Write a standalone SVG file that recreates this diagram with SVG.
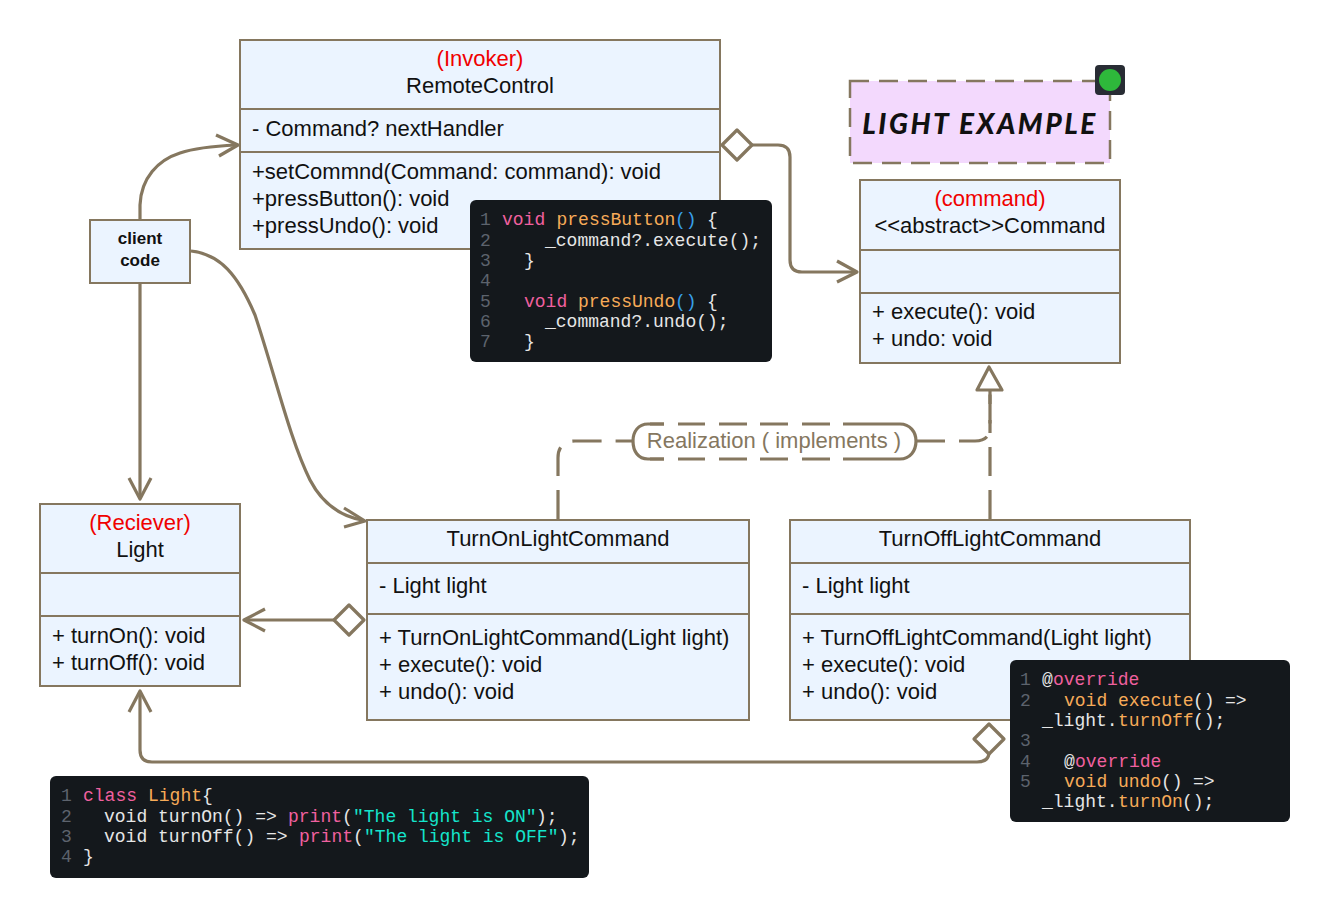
<svg xmlns="http://www.w3.org/2000/svg" width="1330" height="917" viewBox="0 0 1330 917">
<style>
.box{fill:#ebf4ff;stroke:#85775f;stroke-width:2}
.sep{stroke:#85775f;stroke-width:2;fill:none}
.t{font-family:"Liberation Sans",Arial,sans-serif;font-size:22px;fill:#111}
.m{text-anchor:middle}
.r{fill:#f00000}
.c{fill:none;stroke:#85775f;stroke-width:3.2;stroke-linecap:butt;stroke-linejoin:round}
.d{stroke-dasharray:29 14}
.dia{fill:#fff;stroke:#85775f;stroke-width:3.2;stroke-linejoin:round}
.code{fill:#14181c}
.k{font-family:"Liberation Mono",monospace;font-size:18px;fill:#e6e6e6;white-space:pre}
.n{fill:#5d636d}.p{fill:#f0609f}.o{fill:#f7ab58}.b{fill:#38a0ea}.g{fill:#14e5cc}
</style>
<defs>
<marker id="open" markerUnits="userSpaceOnUse" markerWidth="30" markerHeight="30" refX="22" refY="12" orient="auto"><path d="M2 2 L21 12 L2 22" fill="none" stroke="#85775f" stroke-width="3.2"/></marker>
</defs>
<g id="connectors">
<path class="c" d="M140 220 V205 C141 178 158 160 180 153 C195 148 215 146 236 145"/>
<path class="c" d="M216 135 L238 145 L219 156"/>
<path class="c" d="M140 284 V497"/>
<path class="c" d="M129 478 L140 499 L151 478"/>
<path class="c" d="M191 251 C220 254 238 275 255 315 C275 375 290 440 310 480 C322 503 340 516 362 520"/>
<path class="c" d="M344 508 L365 521 L344 527"/>
<path class="c" d="M752 145 H778 Q790 145 790 157 V260 Q790 272 802 272 H855"/>
<path class="c" d="M837 261 L857 272 L837 282"/>
<path class="c" d="M334 620 H246"/>
<path class="c" d="M265 609 L244 620 L265 631"/>
<path class="c" d="M989 753 V752 Q989 762 977 762 H152 Q140 762 140 750 V692"/>
<path class="c" d="M129 712 L140 691 L151 712"/>
<path class="c d" d="M558 519 V458 Q558 441 575 441 H632"/>
<path class="c d" d="M916 441 H975 Q990 441 990 427 V392"/>
<path class="c d" d="M990 519 V420"/>
<path class="dia" d="M989 367 L1002 390 H977 Z"/>
<path class="c" d="M990 390 V404"/>
<path class="dia" d="M737 130 L752 145 L737 160 L722 145 Z"/>
<path class="dia" d="M349 605 L364 620 L349 635 L334 620 Z"/>
<path class="dia" d="M989 724 L1004 739 L989 754 L974 739 Z"/>
<rect x="633" y="424" width="283" height="35" rx="18" fill="#fff" stroke="none"/>
<path class="c" d="M664 424 H648 C638 424 633 432 633 441 C633 451 638 459 648 459 H664"/>
<path class="c" d="M885 424 H900 C910 424 916 432 916 441 C916 451 910 459 900 459 H885"/>
<path class="c" d="M678 424 H705 M719 424 H747 M760 424 H788 M802 424 H830 M843 424 H870 M664 459 H664 M678 459 H705 M719 459 H747 M760 459 H788 M802 459 H830 M843 459 H870"/>
<path class="c" d="M650 424 H664 M885 424 H870 M650 459 H664 M885 459 H870"/>
<text class="t m" x="774" y="447.500" style="fill:#85775f">Realization ( implements )</text>
</g>
<g id="invoker">
<rect class="box" x="240" y="40" width="480" height="209"/>
<path class="sep" d="M240 109 H720 M240 152 H720"/>
<text class="t m r" x="480" y="66">(Invoker)</text>
<text class="t m" x="480" y="93">RemoteControl</text>
<text class="t" x="252" y="136">- Command? nextHandler</text>
<text class="t" x="252" y="179">+setCommnd(Command: command): void</text>
<text class="t" x="252" y="206">+pressButton(): void</text>
<text class="t" x="252" y="233">+pressUndo(): void</text>
</g>
<g id="client-code">
<rect class="box" x="90" y="220" width="100" height="63"/>
<text class="t m" style="font-size:17px;font-weight:700" x="140" y="244">client</text>
<text class="t m" style="font-size:17px;font-weight:700" x="140" y="266">code</text>
</g>
<g id="light-example">
<rect x="850" y="81" width="260" height="82" fill="#f3d9fd" stroke="#85775f" stroke-width="2.500" stroke-dasharray="19 10"/>
<text x="980" y="134" text-anchor="middle" style="font-family:Lato,sans-serif;font-size:28px;font-weight:900;font-style:italic;letter-spacing:2.500px;fill:#111">LIGHT EXAMPLE</text>
<rect x="1095" y="65" width="30" height="30" rx="4" fill="#282c34"/>
<circle cx="1110" cy="80" r="11" fill="#2eb83b"/>
</g>
<g id="command">
<rect class="box" x="860" y="180" width="260" height="183"/>
<path class="sep" d="M860 250 H1120 M860 293 H1120"/>
<text class="t m r" x="990" y="206">(command)</text>
<text class="t m" x="990" y="233">&lt;&lt;abstract&gt;&gt;Command</text>
<text class="t" x="872" y="319">+ execute(): void</text>
<text class="t" x="872" y="346">+ undo: void</text>
</g>
<g id="light">
<rect class="box" x="40" y="504" width="200" height="182"/>
<path class="sep" d="M40 573 H240 M40 616 H240"/>
<text class="t m r" x="140" y="530">(Reciever)</text>
<text class="t m" x="140" y="557">Light</text>
<text class="t" x="52" y="643">+ turnOn(): void</text>
<text class="t" x="52" y="670">+ turnOff(): void</text>
</g>
<g id="turn-on">
<rect class="box" x="367" y="520" width="382" height="200"/>
<path class="sep" d="M367 563 H749 M367 614 H749"/>
<text class="t m" x="558" y="546">TurnOnLightCommand</text>
<text class="t" x="379" y="593">- Light light</text>
<text class="t" x="379" y="645">+ TurnOnLightCommand(Light light)</text>
<text class="t" x="379" y="672">+ execute(): void</text>
<text class="t" x="379" y="699">+ undo(): void</text>
</g>
<g id="turn-off">
<rect class="box" x="790" y="520" width="400" height="200"/>
<path class="sep" d="M790 563 H1190 M790 614 H1190"/>
<text class="t m" x="990" y="546">TurnOffLightCommand</text>
<text class="t" x="802" y="593">- Light light</text>
<text class="t" x="802" y="645">+ TurnOffLightCommand(Light light)</text>
<text class="t" x="802" y="672">+ execute(): void</text>
<text class="t" x="802" y="699">+ undo(): void</text>
</g>
<g id="code-press">
<rect class="code" x="470" y="200" width="302" height="162" rx="6"/>
<text class="k" xml:space="preserve"><tspan class="n" x="480" y="225">1</tspan><tspan class="p" x="502">void</tspan><tspan class="o" x="556.500">pressButton</tspan><tspan class="b" x="675">()</tspan><tspan x="707">{</tspan></text>
<text class="k" xml:space="preserve"><tspan class="n" x="480" y="245.500">2</tspan><tspan x="545">_command?.execute();</tspan></text>
<text class="k"><tspan class="n" x="480" y="265.800">3</tspan><tspan x="524">}</tspan></text>
<text class="k"><tspan class="n" x="480" y="286">4</tspan></text>
<text class="k"><tspan class="n" x="480" y="306.500">5</tspan><tspan class="p" x="524">void</tspan><tspan class="o" x="578">pressUndo</tspan><tspan class="b" x="675">()</tspan><tspan x="707">{</tspan></text>
<text class="k"><tspan class="n" x="480" y="327">6</tspan><tspan x="545">_command?.undo();</tspan></text>
<text class="k"><tspan class="n" x="480" y="347">7</tspan><tspan x="524">}</tspan></text>
</g>
<g id="code-override">
<rect class="code" x="1010" y="660" width="280" height="162" rx="6"/>
<text class="k"><tspan class="n" x="1020" y="685">1</tspan><tspan x="1042">@</tspan><tspan class="p" x="1053">override</tspan></text>
<text class="k"><tspan class="n" x="1020" y="705.500">2</tspan><tspan class="o" x="1064">void execute</tspan><tspan x="1193">()</tspan><tspan x="1225">=&gt;</tspan></text>
<text class="k"><tspan x="1042" y="726">_light.</tspan><tspan class="o" x="1118">turnOff</tspan><tspan x="1193">();</tspan></text>
<text class="k"><tspan class="n" x="1020" y="746">3</tspan></text>
<text class="k"><tspan class="n" x="1020" y="766.500">4</tspan><tspan x="1064">@</tspan><tspan class="p" x="1075">override</tspan></text>
<text class="k"><tspan class="n" x="1020" y="787">5</tspan><tspan class="o" x="1064">void undo</tspan><tspan x="1161">()</tspan><tspan x="1193">=&gt;</tspan></text>
<text class="k"><tspan x="1042" y="807">_light.</tspan><tspan class="o" x="1118">turnOn</tspan><tspan x="1182">();</tspan></text>
</g>
<g id="code-light">
<rect class="code" x="50" y="776" width="539" height="102" rx="6"/>
<text class="k"><tspan class="n" x="61" y="801">1</tspan><tspan class="p" x="83">class</tspan><tspan class="o" x="148">Light</tspan><tspan x="202">{</tspan></text>
<text class="k"><tspan class="n" x="61" y="821.500">2</tspan><tspan x="104">void turnOn() =&gt;</tspan><tspan class="p" x="288">print</tspan><tspan x="342">(</tspan><tspan class="g" x="353">"The light is ON"</tspan><tspan x="536">);</tspan></text>
<text class="k"><tspan class="n" x="61" y="842">3</tspan><tspan x="104">void turnOff() =&gt;</tspan><tspan class="p" x="299">print</tspan><tspan x="353">(</tspan><tspan class="g" x="364">"The light is OFF"</tspan><tspan x="558">);</tspan></text>
<text class="k"><tspan class="n" x="61" y="862">4</tspan><tspan x="83">}</tspan></text>
</g>
</svg>
